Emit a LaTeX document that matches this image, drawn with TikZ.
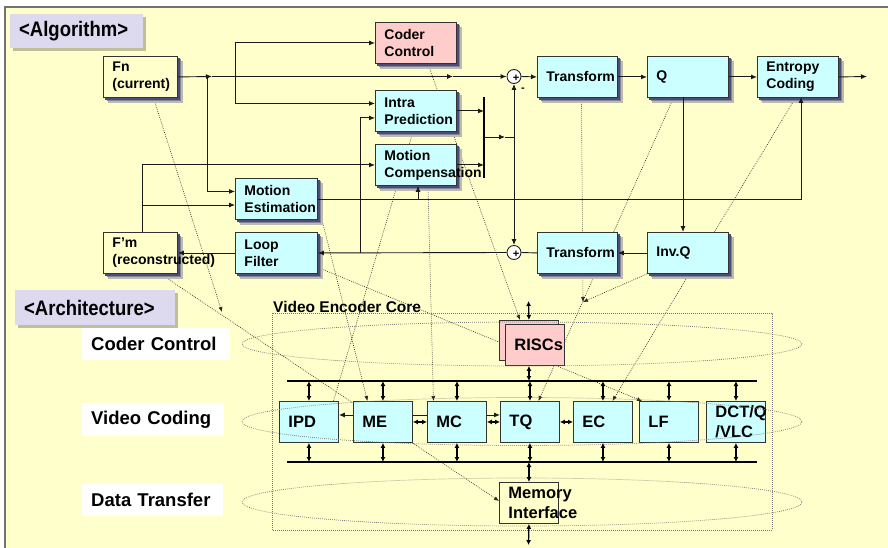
\documentclass[tikz,border=0pt]{standalone}
\usepackage{fontspec}
\setmainfont{Liberation Sans}
\newfontfamily\condfont[FakeStretch=0.88]{Liberation Sans}
\usetikzlibrary{arrows.meta,calc}
\hyphenpenalty=10000
\exhyphenpenalty=10000
\definecolor{paper}{HTML}{FFFFCC}
\definecolor{cyanfill}{HTML}{CCFFFF}
\definecolor{pinkfill}{HTML}{FFCCCC}
\definecolor{lavender}{HTML}{DDD9EE}
\definecolor{navy}{HTML}{1F1F66}
\definecolor{dotgray}{HTML}{777777}
\colorlet{shadeA}{navy!30!paper}
\colorlet{shadeB}{navy!55!paper}
\colorlet{shadeC}{navy!80!paper}
\colorlet{tagshade}{black!25!paper}
\pgfdeclarelayer{bg}
\pgfdeclarelayer{shade}
\pgfsetlayers{bg,shade,main}

\begin{document}
\begin{tikzpicture}[x=1pt,y=-1pt,
  blk/.style={draw=black!80, line width=0.9pt, anchor=north west, inner xsep=9pt,
    inner ysep=0pt, align=left, minimum height=41pt},
  algbox/.style={blk, fill=cyanfill, minimum width=81pt, text width=63pt,
    font=\bfseries\fontsize{14}{17}\selectfont},
  framebox/.style={algbox, fill=paper, minimum width=74pt, text width=56pt},
  ctrlbox/.style={algbox, fill=pinkfill},
  archbox/.style={blk, fill=cyanfill, minimum width=59pt, text width=41pt,
    font=\bfseries\fontsize{16.5}{20}\selectfont},
  sum/.style={circle, draw=black!85, line width=0.9pt, fill=white, minimum size=14pt, inner sep=0pt},
  sign/.style={inner sep=0pt, font=\bfseries\fontsize{11}{11}\selectfont},
  tag/.style={fill=lavender, anchor=north west, inner xsep=9pt, inner ysep=0pt, align=left,
    font=\condfont\bfseries\fontsize{21}{24}\selectfont},
  layer/.style={fill=white, anchor=north west, inner xsep=9pt, inner ysep=0pt, align=left,
    font=\bfseries\fontsize{18.5}{22}\selectfont},
  plain/.style={line width=0.9pt, draw=black!90},
  flow/.style={plain, -{Latex[length=6pt,width=5pt]}},
  both/.style={line width=1.2pt, {Latex[length=5pt,width=5pt]}-{Latex[length=5pt,width=5pt]}},
  bus/.style={line width=2pt},
  map/.style={line width=0.6pt, dash pattern=on 0.8pt off 1.2pt, draw=black!85},
  mapto/.style={map, -{Latex[length=5pt,width=4pt]}},
  zone/.style={line width=0.7pt, dash pattern=on 0.8pt off 1.2pt, draw=dotgray}
]
\path[use as bounding box] (0,0) rectangle (888,548);

\begin{pgfonlayer}{bg}
  \fill[white] (0,0) rectangle (888,548);
  \draw[fill=paper, draw=black!55, line width=1.2pt] (5,7) rectangle (900,560);
\end{pgfonlayer}

% ---------- section tags ----------
\node[tag, minimum width=133pt, text width=115pt, minimum height=34pt] (algtag) at (10,14) {<Algorithm>};
\node[tag, minimum width=160pt, text width=142pt, minimum height=35pt] (archtag) at (15,290) {<Architecture>};

% ---------- algorithm blocks ----------
\node[framebox] (Fn) at (103,56) {Fn\\(current)};
\node[ctrlbox] (CC) at (375,22) {Coder\\Control};
\node[algbox] (IP) at (375,90) {Intra\\Prediction};
\node[algbox] (MCa) at (375,144) {Motion\\Compensation};
\node[algbox, minimum width=82pt, text width=64pt] (MEa) at (235,178) {Motion\\Estimation};
\node[algbox, minimum width=82pt, text width=64pt] (LFa) at (235,232) {Loop\\Filter};
\node[framebox] (Fm) at (103,232) {F’m\\(reconstructed)};
\node[algbox, minimum width=80pt, text width=62pt] (T1) at (537,56) {Transform};
\node[algbox] (Q) at (647,56) {Q};
\node[algbox] (EC) at (757,56) {Entropy\\Coding};
\node[algbox] (IQ) at (647,232) {Inv.Q};
\node[algbox, minimum width=80pt, text width=62pt] (T2) at (537,232) {Transform};

% soft drop shadows under the blocks (outer, lighter layers first)
\begin{pgfonlayer}{shade}
  \foreach \blockname in {Fn,CC,IP,MCa,MEa,LFa,Fm,T1,Q,EC,IQ,T2} {
    \fill[shadeA] ($(\blockname.south west)+(5,5)$) rectangle ($(\blockname.north east)+(5,5)$);
    \fill[shadeB] ($(\blockname.south west)+(3.5,3.5)$) rectangle ($(\blockname.north east)+(3.5,3.5)$);
    \fill[shadeC] ($(\blockname.south west)+(2,2)$) rectangle ($(\blockname.north east)+(2,2)$);
  }
  \foreach \tagname in {algtag,archtag} {
    \fill[tagshade] ($(\tagname.south west)+(3,3)$) rectangle ($(\tagname.north east)+(3,3)$);
  }
\end{pgfonlayer}

\node[sum] (s1) at (514,76.5) {};
\node[sum] (s2) at (514,252.5) {};
\node[sign] (plus1) at ($(s1)+(2,1.5)$) {+};
\node[sign] (plus2) at ($(s2)+(2,1.5)$) {+};
\node[sign] (minus) at (523,90) {-};

% ---------- algorithm data flow ----------
\coordinate (fork1) at (207,76.5);
\coordinate (fork2) at (235,76.5);
\coordinate (tip1) at (212,76.5);
\coordinate (tip2) at (453,76.5);
\coordinate (bitstream) at (867,76.5);
\draw[flow] (Fn.east) -- (tip1);
\draw[flow] (tip1) -- (tip2);
\draw[flow] (tip2) -- (s1.west);
\draw[flow] (s1.east) -- (T1.west);
\draw[flow] (T1.east) -- (Q.west);
\draw[flow] (Q.east) -- (EC.west);
\draw[flow] (EC.east) -- (bitstream);

\draw[flow] (fork1) |- ($(MEa.west)+(0,-7.5)$);
\draw[flow] (fork2) |- (CC.west);
\draw[flow] (fork2) |- ($(IP.west)+(0,-7.5)$);

\coordinate (fmtop) at (142,232);
\coordinate (fmtap) at (142,205);
\draw[flow] (fmtop) |- (MCa.west);
\draw[flow] (fmtap) -- (fmtap -| MEa.west);

\coordinate (mvtap) at (418,198.5);
\coordinate (ecin) at (801,97);
\draw[flow] (MEa.east) -| (ecin);
\draw[flow] (mvtap) -- (mvtap |- MCa.south);

\coordinate (bartop) at (484,97);
\coordinate (barbot) at (484,178);
\draw[bus] (bartop) -- (barbot);
\draw[flow] (IP.east) -- (IP.east -| bartop);
\draw[flow] (MCa.east) -- (MCa.east -| bartop);
\coordinate (predout) at (484,137);
\coordinate (predtip) at (505,137);
\coordinate (predjoin) at (514,137);
\draw[flow] (predout) -- (predtip);
\draw[plain] (predtip) -- (predjoin);
\draw[flow] (predjoin) -- (s1.south);
\draw[flow] (predjoin) -- (s2.north);

\coordinate (qout) at (683,97);
\draw[flow] (qout) -- (qout |- IQ.north);
\draw[flow] (IQ.west) -- (T2.east);
\draw[plain] (T2.west) -- (s2.east);
\draw[flow] (s2.west) -- (LFa.east);
\draw[flow] (LFa.west) -- (Fm.east);
\coordinate (recon) at (360,252.5);
\draw[flow] (recon) |- ($(IP.west)+(0,7)$);

% ---------- architecture ----------
\node[layer, minimum width=148pt, text width=130pt, minimum height=32pt] (lyctl) at (82,328) {Coder Control};
\node[layer, minimum width=142pt, text width=124pt, minimum height=33pt] (lyvid) at (82,403) {Video Coding};
\node[layer, minimum width=141pt, text width=123pt, minimum height=32pt] (lydat) at (82,484) {Data Transfer};

\draw[zone] (272,313) rectangle (772,530);
\node[font=\bfseries\fontsize{15.5}{18}\selectfont, anchor=base west, inner sep=0pt] (coretitle) at (273,312) {Video Encoder Core};

\node[archbox] (IPD) at (279,401) {IPD};
\node[archbox] (MEb) at (353,401) {ME};
\node[archbox] (MCb) at (427,401) {MC};
\node[archbox] (TQ) at (500,401) {TQ};
\node[archbox] (ECb) at (573,401) {EC};
\node[archbox] (LFb) at (639,401) {LF};
\node[archbox] (DCT) at (706,401) {DCT/Q\\/VLC};
\node[archbox, fill=paper] (MEM) at (499,482) {Memory\\Interface};
\node[archbox, fill=pinkfill, minimum height=40pt] (risc2) at (499,320) {};
\node[archbox, fill=pinkfill] (risc) at (505,324) {RISCs};

\draw[zone] (522,344) ellipse [x radius=280pt, y radius=22pt];
\draw[zone] (522,421.5) ellipse [x radius=280pt, y radius=24pt];
\draw[zone] (522,502) ellipse [x radius=280pt, y radius=24pt];

\coordinate (busTL) at (287,381);
\coordinate (busTR) at (757,381);
\coordinate (busBL) at (287,462);
\coordinate (busBR) at (757,462);
\draw[bus] (busTL) -- (busTR);
\draw[bus] (busBL) -- (busBR);
\foreach \b in {IPD,MEb,MCb,TQ,ECb,LFb,DCT} {
  \draw[both] (\b.north) -- (\b.north |- busTL);
  \draw[both] (\b.south) -- (\b.south |- busBL);
}
\coordinate (ctlbus) at (528.5,301);
\coordinate (extmem) at (528.5,545);
\draw[both] (ctlbus) -- (risc2.north);
\draw[both] (risc2.south |- risc.south) -- (risc2.south |- busTL);
\draw[both] (MEM.north) -- (MEM.north |- busBL);
\draw[both] (MEM.south) -- (extmem);

\draw[flow] ($(MEb.west)+(0,-7)$) -- ($(IPD.east)+(0,-7)$);
\draw[plain] ($(MEb.east)+(0,-7)$) -- ($(MCb.west)+(0,-7)$);
\draw[flow] ($(MCb.east)+(0,-7)$) -- ($(TQ.west)+(0,-7)$);
\draw[both] (MEb.east) -- (MCb.west);
\draw[both] (MCb.east) -- (TQ.west);
\draw[both] (TQ.east) -- (ECb.west);

% ---------- mapping of algorithm blocks onto the core ----------
\coordinate (fnmap) at (222,312);
\coordinate (tqjoin) at (583,302);
\begin{pgfonlayer}{bg}
  \draw[mapto] ($(Fn.south)+(13,0)$) -- (fnmap);
  \draw[mapto] ($(Fm.south)+(20,0)$) -- ($(MEM.west)+(0,-2)$);
  \draw[mapto] ($(CC.south)+(12,0)$) -- ($(risc2.north)+(-9,0)$);
  \draw[map] ($(IP.south)+(-3,0)$) -- ($(IPD.north)+(24.5,0)$);
  \draw[mapto] ($(MCa.south)+(12,0)$) -- ($(MCb.north)+(-23.5,0)$);
  \draw[mapto] ($(MEa.east)+(1,8.5)$) -- ($(MEb.north)+(-15.5,0)$);
  \draw[mapto] ($(LFa.east)+(0,14.5)$) -- ($(LFb.north west)+(3,0)$);
  \draw[mapto] ($(T1.south)+(4,0)$) -- (tqjoin);
  \draw[mapto] (IQ.south west) -- (tqjoin);
  \draw[mapto] ($(Q.south)+(-14.5,0)$) -- ($(TQ.north)+(8.5,0)$);
  \draw[mapto] ($(EC.south)+(-2.5,0)$) -- ($(ECb.north)+(9.5,0)$);
\end{pgfonlayer}
\end{tikzpicture}
\end{document}
